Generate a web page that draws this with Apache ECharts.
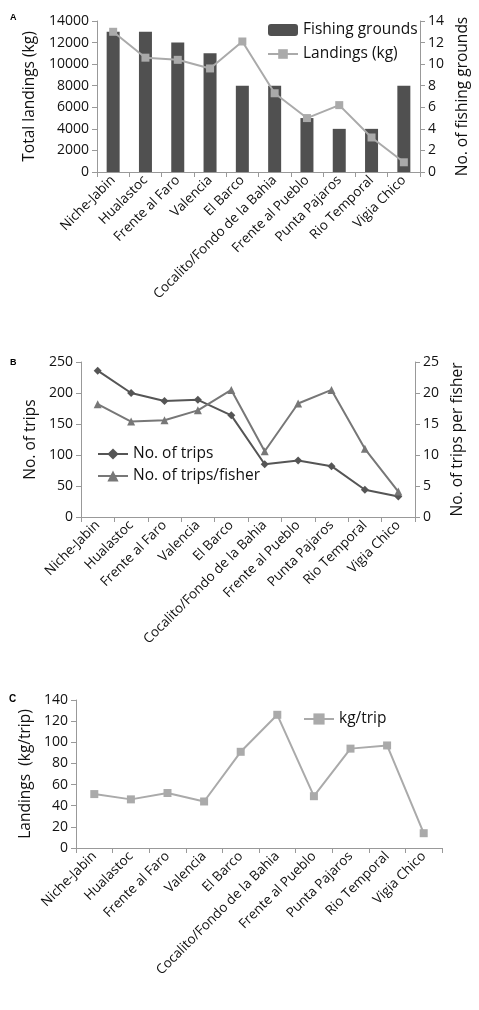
<!DOCTYPE html><html><head><meta charset="utf-8"><script src="https://cdn.jsdelivr.net/npm/echarts@6/dist/echarts.min.js"></script>
<style>body{margin:0;background:#fff}#c{width:479px;height:1010px}</style></head><body><div id="c"></div><script>
const categories=["Niche-Jabin","Hualastoc","Frente al Faro","Valencia","El Barco","Cocalito/Fondo de la Bahia","Frente al Pueblo","Punta Pajaros","Rio Temporal","Vigia Chico"];
const fishingGrounds=[13,13,12,11,8,8,5,4,4,8];
const landingsKg=[13000,10600,10400,9600,12100,7300,5000,6200,3200,900];
const trips=[236,200,187,189,164,85,91,82,44,33];
const tripsPerFisher=[18.2,15.4,15.6,17.2,20.5,10.6,18.3,20.5,11,4.1];
const kgPerTrip=[51,46,52,44,91,126,49,94,97,14];
const F='"Open Sans",sans-serif';
const ax={lineStyle:{color:'#999'}};
function cat(i){return {type:'category',gridIndex:i,data:categories,axisLine:ax,axisTick:{show:true,lineStyle:{color:'#999'}},axisLabel:{rotate:45,fontSize:13.5,color:'#111',fontFamily:F,margin:6,interval:0}};}
function val(i,max,intv,name,pos,gap){return {type:'value',gridIndex:i,min:0,max:max,interval:intv,position:pos,name:name,nameLocation:'middle',nameGap:gap,nameTextStyle:{fontSize:15.5,color:'#111',fontFamily:F},axisLine:{show:true,lineStyle:{color:'#999'}},axisTick:{show:true,lineStyle:{color:'#999'}},splitLine:{show:false},axisLabel:{fontSize:14,color:'#111',fontFamily:F,formatter:v=>String(v)}};}
const chart=echarts.init(document.getElementById('c'));
chart.setOption({animation:false,
grid:[{left:97,right:59,top:21,height:151},{left:81,right:64,top:362,height:155},{left:76,right:37,top:700,height:148}],
xAxis:[cat(0),cat(1),cat(2)],
yAxis:[val(0,14000,2000,'Total landings (kg)','left',50),val(0,14,2,'No. of fishing grounds','right',30),
val(1,250,50,'No. of trips','left',42),val(1,25,5,'No. of trips per fisher','right',33),
val(2,140,20,'Landings  (kg/trip)','left',40)],
legend:[{data:['Fishing grounds','Landings (kg)'],orient:'vertical',left:262,top:17,itemGap:8,itemWidth:30,itemHeight:12,textStyle:{fontSize:15.5,fontFamily:F,color:'#111'}},
{data:['No. of trips','No. of trips/fisher'],orient:'vertical',left:92,top:441,itemGap:6,itemWidth:30,textStyle:{fontSize:15.5,fontFamily:F,color:'#111'}},
{data:['kg/trip'],left:298,top:706,itemWidth:30,textStyle:{fontSize:15.5,fontFamily:F,color:'#111'}}],
series:[
{name:'Fishing grounds',type:'bar',xAxisIndex:0,yAxisIndex:1,data:fishingGrounds,barWidth:13,itemStyle:{color:'#505050'}},
{name:'Landings (kg)',type:'line',xAxisIndex:0,yAxisIndex:0,data:landingsKg,symbol:'rect',symbolSize:8,lineStyle:{color:'#aaa',width:2},itemStyle:{color:'#aaa'}},
{name:'No. of trips',type:'line',xAxisIndex:1,yAxisIndex:2,data:trips,symbol:'diamond',symbolSize:8,lineStyle:{color:'#555',width:2},itemStyle:{color:'#555'}},
{name:'No. of trips/fisher',type:'line',xAxisIndex:1,yAxisIndex:3,data:tripsPerFisher,symbol:'triangle',symbolSize:8,lineStyle:{color:'#777',width:2},itemStyle:{color:'#777'}},
{name:'kg/trip',type:'line',xAxisIndex:2,yAxisIndex:4,data:kgPerTrip,symbol:'rect',symbolSize:8,lineStyle:{color:'#aaa',width:2},itemStyle:{color:'#aaa'}}
]});
</script>
<div style="position:absolute;left:10px;top:12px;font:bold 9px Arial">A</div>
<div style="position:absolute;left:10px;top:357px;font:bold 9px Arial">B</div>
<div style="position:absolute;left:9px;top:693px;font:bold 10px Arial">C</div>
</body></html>
